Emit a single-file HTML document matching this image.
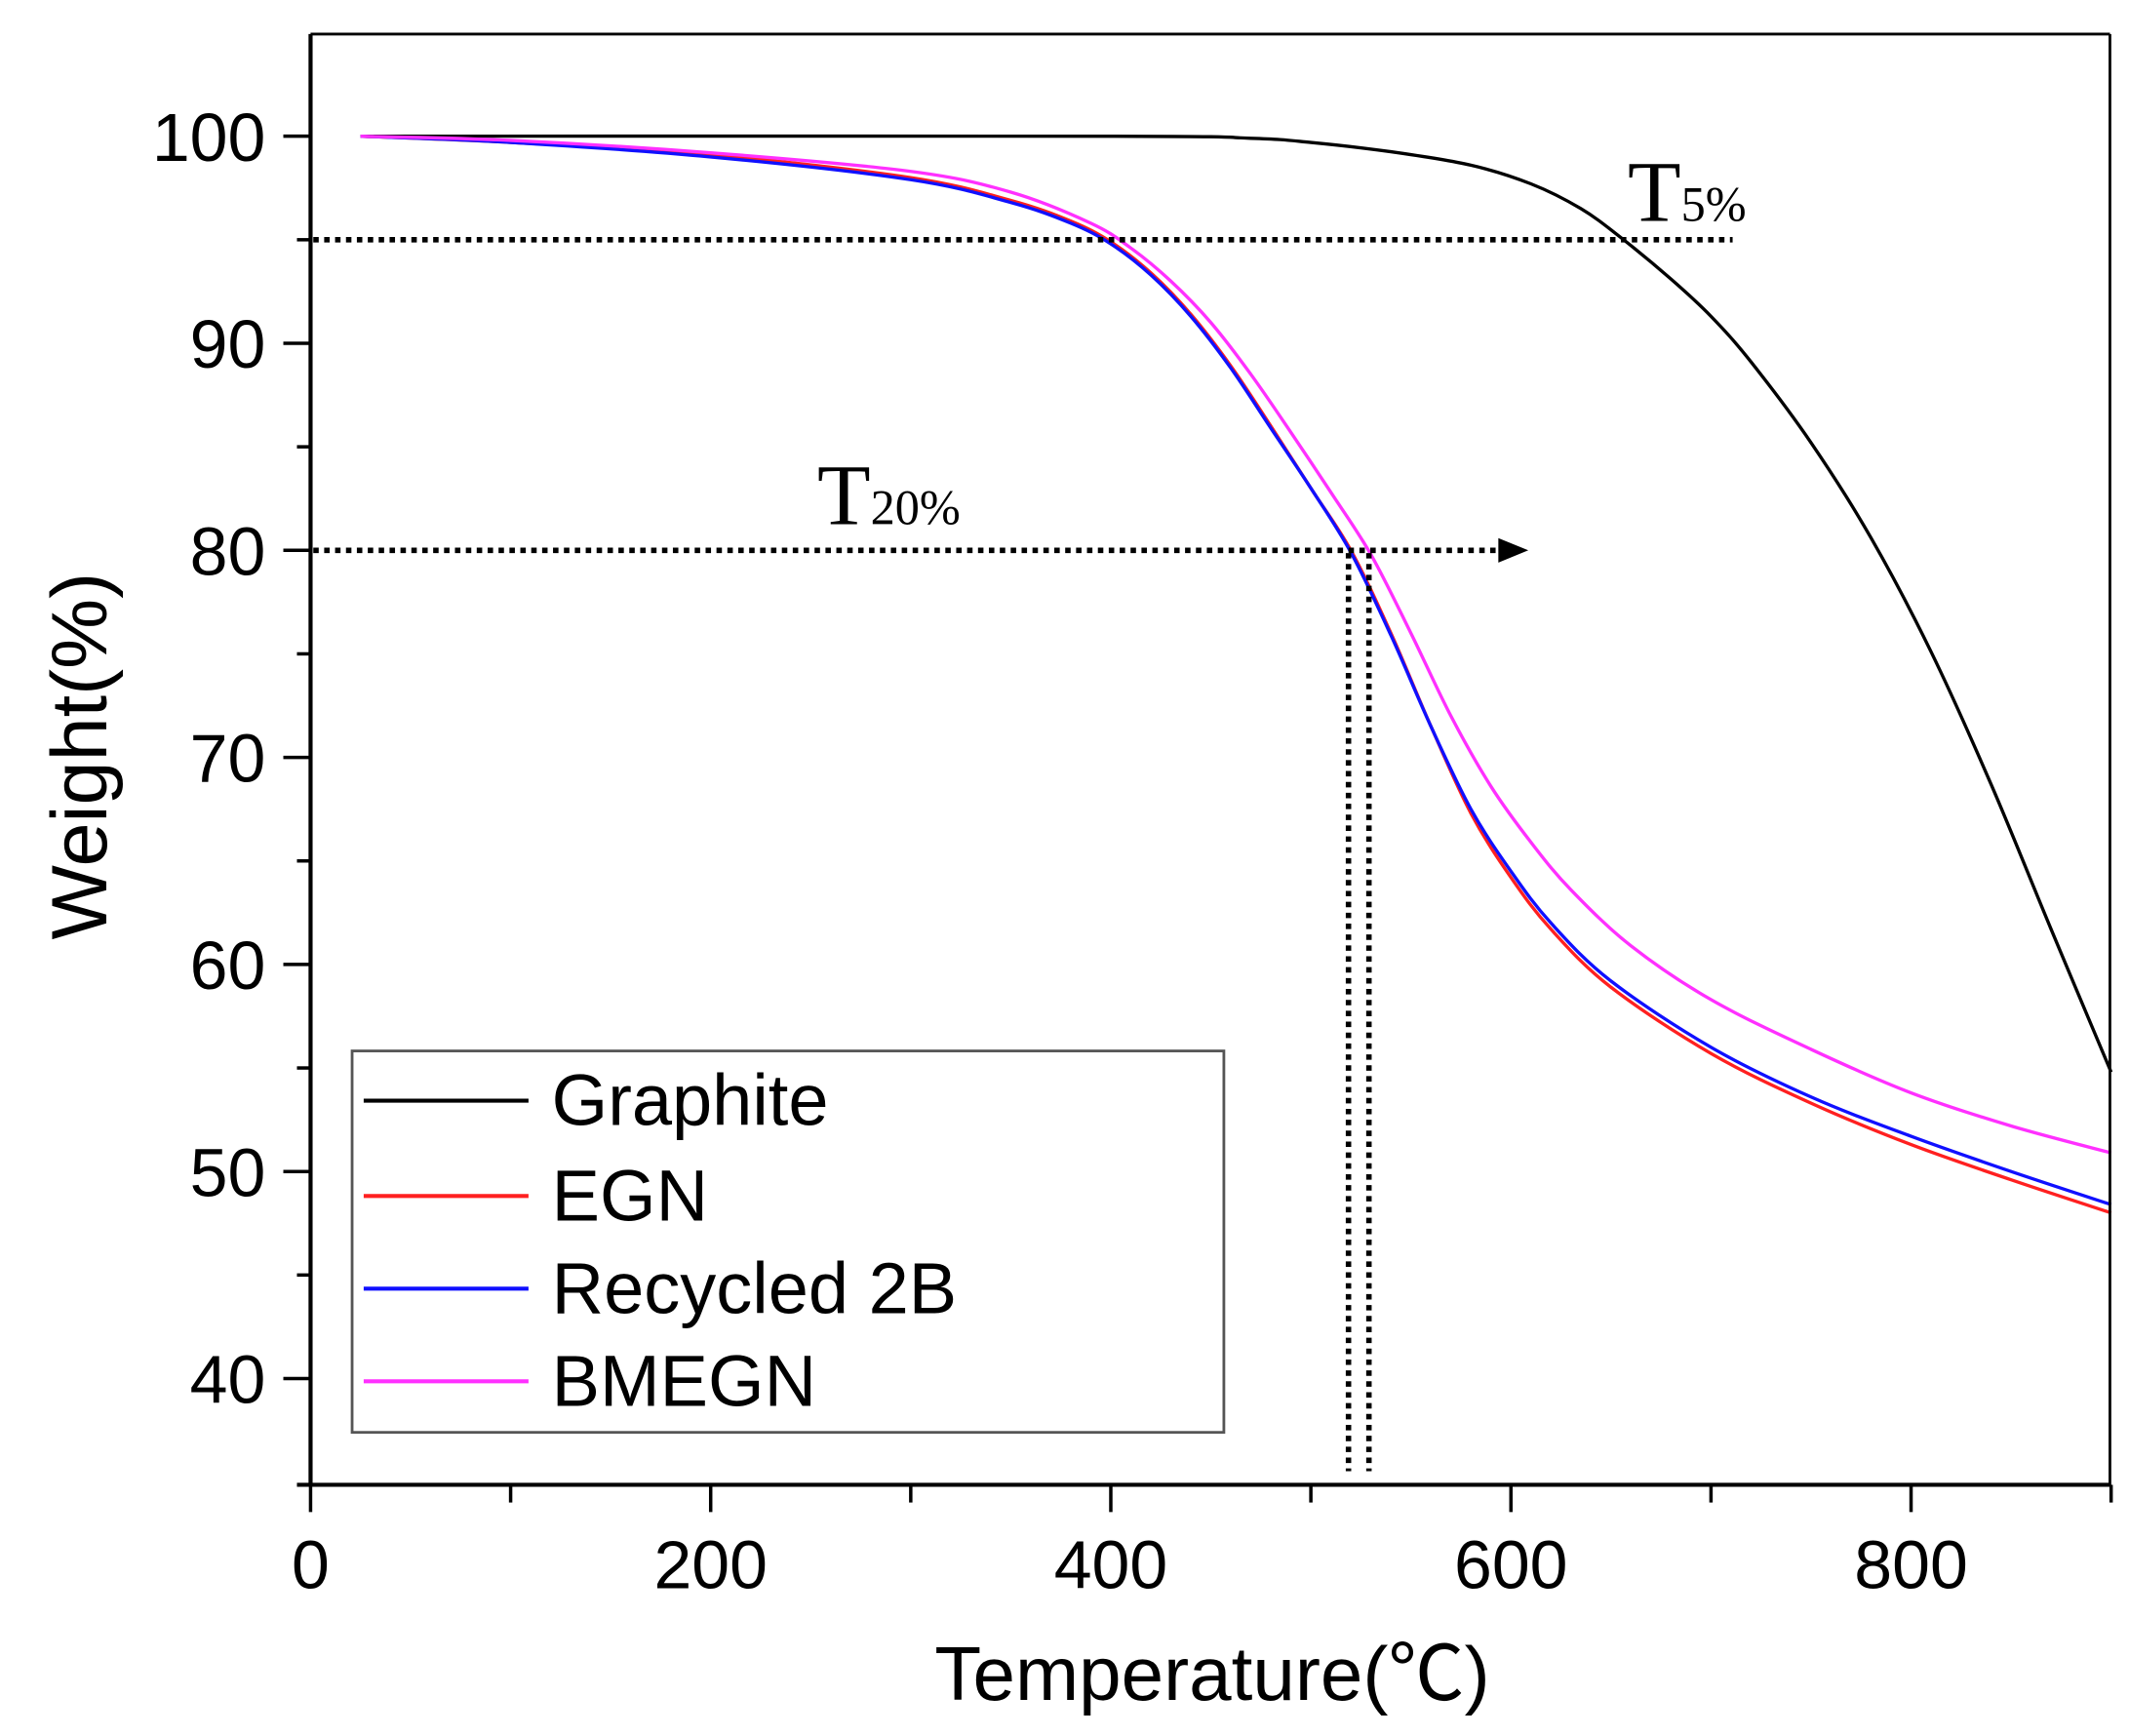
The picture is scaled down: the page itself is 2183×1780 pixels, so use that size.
<!DOCTYPE html>
<html><head><meta charset="utf-8"><style>html,body{margin:0;padding:0;background:#fff}svg{display:block}</style></head>
<body>
<svg id="s" width="2183" height="1780" viewBox="0 0 1563 1274.4" preserveAspectRatio="none" xmlns="http://www.w3.org/2000/svg" font-family="Liberation Sans, Arial, sans-serif">
<rect width="1563" height="1275" fill="#fff"/>
<g id="curves" fill="none" stroke-width="2.4"></g>
<g stroke="#000" stroke-width="3" fill="none">
<line x1="228" y1="25" x2="228" y2="1090"/>
<line x1="218" y1="1090" x2="1549" y2="1090"/>
<line x1="228" y1="25" x2="1549" y2="25" stroke-width="2"/>
<line x1="1549" y1="25" x2="1549" y2="1090" stroke-width="2"/>
</g>
<g id="ticks" stroke="#000" stroke-width="2.5"></g>
<g id="labels" font-size="50" fill="#000"></g>
<g stroke="#000" stroke-width="4" stroke-dasharray="4,4" fill="none">
<line x1="230" y1="176" x2="1272" y2="176"/>
<line x1="230" y1="404" x2="1102" y2="404"/>
<line x1="990" y1="406" x2="990" y2="1080"/>
<line x1="1005" y1="406" x2="1005" y2="1080"/>
</g>
<polygon points="1100,395 1122,404 1100,413" fill="#000"/>
<text x="1195" y="162" font-family="Liberation Serif, serif" font-size="64">T<tspan font-size="36">5%</tspan></text>
<text x="600" y="385" font-family="Liberation Serif, serif" font-size="64">T<tspan font-size="36">20%</tspan></text>
<rect x="258.5" y="771.5" width="640" height="280" fill="#fff" stroke="#555" stroke-width="2"/>
<g stroke-width="3">
<line x1="267" y1="808" x2="388" y2="808" stroke="#000"/>
<line x1="267" y1="878" x2="388" y2="878" stroke="#ff2020"/>
<line x1="267" y1="946" x2="388" y2="946" stroke="#1010ff"/>
<line x1="267" y1="1014" x2="388" y2="1014" stroke="#ff30ff"/>
</g>
<g font-size="53" fill="#000">
<text x="405" y="826">Graphite</text>
<text x="405" y="896">EGN</text>
<text x="405" y="964">Recycled 2B</text>
<text x="405" y="1032">BMEGN</text>
</g>
<text x="890" y="1248" font-size="56" text-anchor="middle">Temperature(<tspan font-family="Noto Sans CJK SC, sans-serif">℃</tspan>)</text>
<text transform="translate(78,555) rotate(-90)" font-size="58" text-anchor="middle">Weight(%)</text>
</svg>
<script>
var X=function(t){return 228+t*1.46875},Y=function(w){return 100+(100-w)*15.2};
var data={
"#000":[[25,100],[400,100],[470,99.9],[500,99.7],[540,99.25],[580,98.6],[610,97.7],[635,96.5],[655,95.1],[680,93.1],[700,91.3],[720,89.1],[750,85.2],[780,80.6],[810,75.1],[840,68.7],[870,61.7],[900,54.8]],
"#ff2020":[[25,100],[100,99.7],[200,99.1],[300,98.0],[350,96.9],[380,95.9],[400,94.9],[420,93.4],[440,91.4],[460,88.9],[480,86],[500,83],[520,80],[540,76],[560,71.5],[580,67.3],[600,64.2],[620,61.7],[650,58.9],[700,55.7],[750,53.3],[800,51.3],[850,49.6],[900,48.0]],
"#1010ff":[[25,100],[100,99.7],[200,99.0],[300,97.9],[350,96.8],[380,95.8],[400,94.8],[420,93.3],[440,91.3],[460,88.8],[480,85.9],[500,83],[520,79.9],[540,75.9],[560,71.5],[580,67.5],[600,64.5],[620,62],[650,59.2],[700,56],[750,53.6],[800,51.7],[850,50],[900,48.4]],
"#ff30ff":[[25,100],[100,99.8],[200,99.2],[300,98.3],[350,97.3],[390,95.8],[410,94.6],[430,93],[450,91],[470,88.5],[490,85.7],[510,82.8],[530,79.8],[550,76],[570,72],[590,68.6],[610,65.9],[630,63.6],[660,60.9],[700,58.3],[750,55.9],[800,53.8],[850,52.2],[900,50.9]]};
var NS="http://www.w3.org/2000/svg",g=document.getElementById("curves");
for(var c in data){var p=data[c].map(function(d){return [X(d[0]),Y(d[1])]});
var s="M"+p[0][0]+","+p[0][1];
for(var i=0;i<p.length-1;i++){var p0=p[Math.max(0,i-1)],p1=p[i],p2=p[i+1],p3=p[Math.min(p.length-1,i+2)];
s+=" C"+(p1[0]+(p2[0]-p0[0])/6)+","+(p1[1]+(p2[1]-p0[1])/6)+" "+(p2[0]-(p3[0]-p1[0])/6)+","+(p2[1]-(p3[1]-p1[1])/6)+" "+p2[0]+","+p2[1];}
var e=document.createElementNS(NS,"path");e.setAttribute("d",s);e.setAttribute("stroke",c);g.appendChild(e);}
var tk=document.getElementById("ticks"),lb=document.getElementById("labels");
function L(a,b,c,d){var e=document.createElementNS(NS,"line");e.setAttribute("x1",a);e.setAttribute("y1",b);e.setAttribute("x2",c);e.setAttribute("y2",d);tk.appendChild(e);}
function T(x,y,t,a){var e=document.createElementNS(NS,"text");e.setAttribute("x",x);e.setAttribute("y",y);e.setAttribute("text-anchor",a);e.textContent=t;lb.appendChild(e);}
for(var w=40;w<=100;w+=5){var y=Y(w);if(w%10==0){L(208,y,228,y);T(195,y+18,w,"end");}else L(218,y,228,y);}
for(var t=0;t<=900;t+=100){var x=X(t);if(t%200==0){L(x,1090,x,1110);T(x,1166,t,"middle");}else L(x,1090,x,1103);}
</script>
</body></html>
